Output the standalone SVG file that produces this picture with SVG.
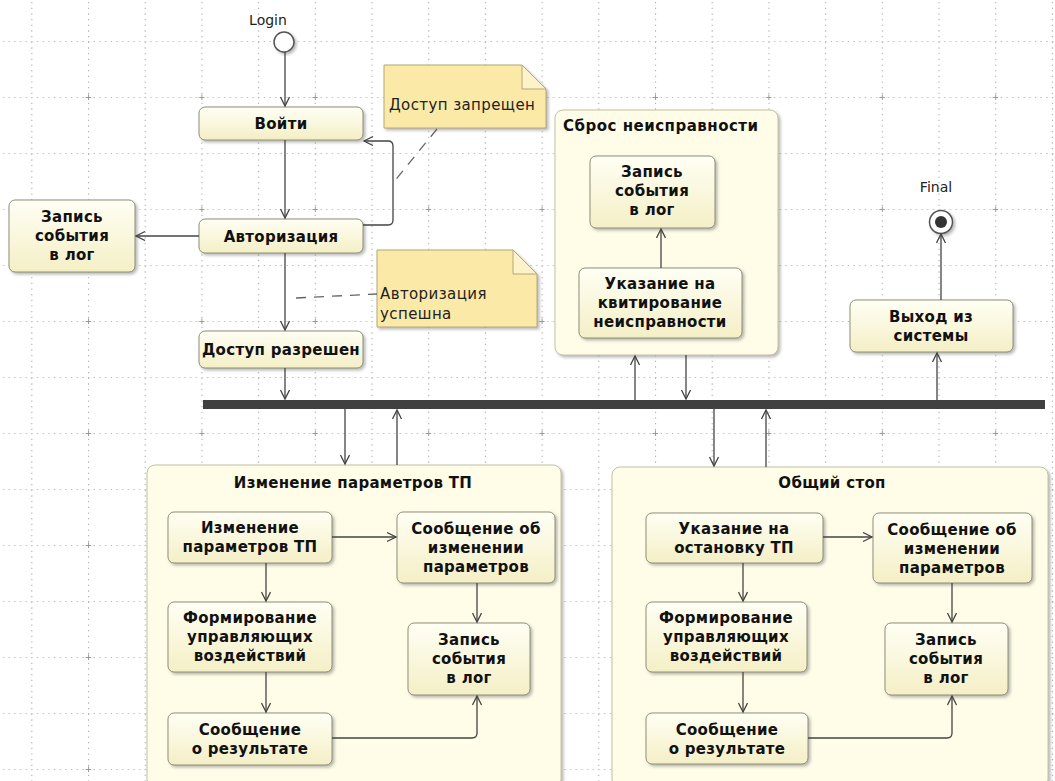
<svg xmlns="http://www.w3.org/2000/svg" width="1055" height="781" viewBox="0 0 1055 781">
<defs>
<style>
.gl{stroke:#b4b4b4;stroke-width:1.2;stroke-dasharray:1.3 4.37}
.gp{stroke:#9a9a9a;stroke-width:1}
.node{fill:url(#ng);stroke:#8f8f78;stroke-width:1;filter:url(#sh)}
.cont{fill:#fffde8;stroke:#c4c0a0;stroke-width:1;filter:url(#sh)}
.note{fill:#fbe9a8;stroke:#b4a878;stroke-width:1;filter:url(#sh)}
.fold{fill:#fdf2c8;stroke:#b4a878;stroke-width:1}
.t{font-family:"DejaVu Sans","Liberation Sans",sans-serif;font-weight:bold;font-size:15px;letter-spacing:0.3px;fill:#111;text-anchor:middle}
.tl{font-family:"DejaVu Sans","Liberation Sans",sans-serif;font-weight:bold;font-size:15px;letter-spacing:0.5px;fill:#111}
.nt{font-family:"DejaVu Sans","Liberation Sans",sans-serif;font-size:15px;fill:#222;letter-spacing:0.4px}
.lb{font-family:"DejaVu Sans","Liberation Sans",sans-serif;font-size:14px;fill:#222;text-anchor:middle}
.c{fill:none;stroke:#444;stroke-width:1.3;marker-end:url(#ar)}
.d{fill:none;stroke:#666;stroke-width:1.3;stroke-dasharray:10 8}
</style>
<linearGradient id="ng" x1="0" y1="0" x2="0" y2="1">
<stop offset="0" stop-color="#fffff4"/>
<stop offset="1" stop-color="#f4efc6"/>
</linearGradient>
<filter id="sh" x="-10%" y="-10%" width="130%" height="130%">
<feDropShadow dx="2" dy="2" stdDeviation="1.5" flood-color="#808080" flood-opacity="0.55"/>
</filter>
<marker id="ar" markerWidth="12" markerHeight="12" refX="10" refY="5" orient="auto" markerUnits="userSpaceOnUse">
<path d="M1,0.5 L10,5 L1,9.5" fill="none" stroke="#444" stroke-width="1.3"/>
</marker>
<pattern id="grid" x="-25.4" y="-15" width="113.4" height="112" patternUnits="userSpaceOnUse">
<line class="gl" x1="0" y1="0.5" x2="113.4" y2="0.5"/>
<line class="gl" x1="0" y1="56.5" x2="113.4" y2="56.5"/>
<line class="gl" x1="0.5" y1="0" x2="0.5" y2="112"/>
<line class="gl" x1="57.2" y1="0" x2="57.2" y2="112"/>
<path class="gp" d="M-2,0.5 H3 M0.5,-2 V3"/>
<path class="gp" d="M110.9,0.5 H115.4 M0.5,109.5 V114"/>
</pattern>
</defs>
<rect width="1055" height="781" fill="#ffffff"/>
<rect width="1055" height="781" fill="url(#grid)"/>

<!-- containers -->
<g id="cont-sbros">
<rect class="cont" x="555" y="110" width="223" height="245" rx="8"/>
<text class="tl" x="563" y="131">Сброс неисправности</text>
</g>
<g id="cont-izm">
<rect class="cont" x="147" y="465" width="414" height="322" rx="8"/>
<text class="t" x="353" y="488">Изменение параметров ТП</text>
</g>
<g id="cont-stop">
<rect class="cont" x="612" y="467" width="436" height="320" rx="8"/>
<text class="t" x="832" y="488">Общий стоп</text>
</g>

<!-- initial / final -->
<g id="login">
<text class="lb" x="268" y="25">Login</text>
<circle cx="284" cy="42" r="10" fill="#fff" stroke="#555" stroke-width="1.5" filter="url(#sh)"/>
</g>
<g id="final">
<text class="lb" x="936" y="192">Final</text>
<circle cx="941" cy="222" r="11.5" fill="#fff" stroke="#555" stroke-width="1.5" filter="url(#sh)"/>
<circle cx="941" cy="222" r="6" fill="#333"/>
</g>

<!-- nodes -->
<g id="voiti">
<rect class="node" x="199" y="107" width="164" height="33" rx="6"/>
<text class="t" x="281" y="129">Войти</text>
</g>
<g id="avtorizaciya">
<rect class="node" x="199" y="219" width="164" height="34" rx="6"/>
<text class="t" x="281" y="241.5">Авторизация</text>
</g>
<g id="zapis-left">
<rect class="node" x="9" y="200" width="126" height="72" rx="6"/>
<text class="t"><tspan x="72" y="222">Запись</tspan><tspan x="72" y="241">события</tspan><tspan x="72" y="260">в лог</tspan></text>
</g>
<g id="dostup-razreshen">
<rect class="node" x="199" y="331" width="164" height="37" rx="6"/>
<text class="t" x="281" y="355">Доступ разрешен</text>
</g>
<g id="zapis-sbros">
<rect class="node" x="590" y="156" width="125" height="72" rx="6"/>
<text class="t"><tspan x="652" y="177">Запись</tspan><tspan x="652" y="196">события</tspan><tspan x="652" y="215">в лог</tspan></text>
</g>
<g id="ukazanie-kvit">
<rect class="node" x="579" y="268" width="163" height="70" rx="6"/>
<text class="t"><tspan x="660" y="288.5">Указание на</tspan><tspan x="660" y="307.5">квитирование</tspan><tspan x="660" y="326.5">неисправности</tspan></text>
</g>
<g id="vyhod">
<rect class="node" x="850" y="300" width="163" height="52" rx="6"/>
<text class="t"><tspan x="931" y="322">Выход из</tspan><tspan x="931" y="341">системы</tspan></text>
</g>

<!-- bottom-left internals -->
<g id="izm-param">
<rect class="node" x="168" y="512" width="164" height="51" rx="6"/>
<text class="t"><tspan x="250" y="533">Изменение</tspan><tspan x="250" y="552">параметров ТП</tspan></text>
</g>
<g id="soob-izm-1">
<rect class="node" x="397" y="512" width="158" height="71" rx="6"/>
<text class="t"><tspan x="476" y="534">Сообщение об</tspan><tspan x="476" y="553">изменении</tspan><tspan x="476" y="572">параметров</tspan></text>
</g>
<g id="form-1">
<rect class="node" x="168" y="602" width="164" height="70" rx="6"/>
<text class="t"><tspan x="250" y="623">Формирование</tspan><tspan x="250" y="642">управляющих</tspan><tspan x="250" y="661">воздействий</tspan></text>
</g>
<g id="rezult-1">
<rect class="node" x="168" y="713" width="164" height="52" rx="6"/>
<text class="t"><tspan x="250" y="735">Сообщение</tspan><tspan x="250" y="754">о результате</tspan></text>
</g>
<g id="zapis-1">
<rect class="node" x="408" y="623" width="122" height="72" rx="6"/>
<text class="t"><tspan x="469" y="645">Запись</tspan><tspan x="469" y="664">события</tspan><tspan x="469" y="683">в лог</tspan></text>
</g>

<!-- bottom-right internals -->
<g id="ukaz-ostanov">
<rect class="node" x="646" y="513" width="177" height="50" rx="6"/>
<text class="t"><tspan x="734" y="534">Указание на</tspan><tspan x="734" y="553">остановку ТП</tspan></text>
</g>
<g id="soob-izm-2">
<rect class="node" x="873" y="513" width="159" height="70" rx="6"/>
<text class="t"><tspan x="952" y="535">Сообщение об</tspan><tspan x="952" y="554">изменении</tspan><tspan x="952" y="573">параметров</tspan></text>
</g>
<g id="form-2">
<rect class="node" x="646" y="602" width="161" height="70" rx="6"/>
<text class="t"><tspan x="726" y="623">Формирование</tspan><tspan x="726" y="642">управляющих</tspan><tspan x="726" y="661">воздействий</tspan></text>
</g>
<g id="rezult-2">
<rect class="node" x="646" y="713" width="162" height="51" rx="6"/>
<text class="t"><tspan x="727" y="735">Сообщение</tspan><tspan x="727" y="754">о результате</tspan></text>
</g>
<g id="zapis-2">
<rect class="node" x="885" y="623" width="123" height="72" rx="6"/>
<text class="t"><tspan x="946" y="645">Запись</tspan><tspan x="946" y="664">события</tspan><tspan x="946" y="683">в лог</tspan></text>
</g>

<!-- notes -->
<g id="note-zapreshen">
<path class="note" d="M384,65 H522 L546,89 V128 H384 Z"/>
<path class="fold" d="M522,65 V89 H546 Z"/>
<text class="nt" x="389" y="110">Доступ запрещен</text>
</g>
<g id="note-uspeshna">
<path class="note" d="M377,250 H513 L537,274 V327 H377 Z"/>
<path class="fold" d="M513,250 V274 H537 Z"/>
<text class="nt"><tspan x="380" y="299">Авторизация</tspan><tspan x="380" y="319">успешна</tspan></text>
</g>

<!-- fork bar -->
<g id="bar">
<rect x="203" y="400" width="842" height="9" fill="#404040"/>
</g>

<!-- connectors -->
<g id="connectors">
<path class="c" d="M285,52 V106"/>
<path class="c" d="M285,140 V218"/>
<path class="c" d="M363,225 H388 Q393,225 393,220 V146 Q393,141 388,141 H364"/>
<path class="c" d="M199,236 H136"/>
<path class="c" d="M285,253 V330"/>
<path class="c" d="M285,368 V399"/>
<path class="c" d="M345,409 V464"/>
<path class="c" d="M397,465 V410"/>
<path class="c" d="M635,400 V356"/>
<path class="c" d="M686,355 V399"/>
<path class="c" d="M937,400 V353"/>
<path class="c" d="M941,300 V234"/>
<path class="c" d="M714,409 V466"/>
<path class="c" d="M766,467 V410"/>
<path class="c" d="M661,268 V229"/>
<path class="c" d="M332,537 H396"/>
<path class="c" d="M266,563 V601"/>
<path class="c" d="M266,672 V712"/>
<path class="c" d="M477,583 V622"/>
<path class="c" d="M332,738 H472 Q477,738 477,733 V696"/>
<path class="c" d="M823,537 H872"/>
<path class="c" d="M743,563 V601"/>
<path class="c" d="M743,672 V712"/>
<path class="c" d="M952,583 V622"/>
<path class="c" d="M808,738 H947 Q952,738 952,733 V696"/>
<path class="d" d="M437,129 L393,183"/>
<path class="d" d="M296,298 L377,294"/>
</g>
</svg>
